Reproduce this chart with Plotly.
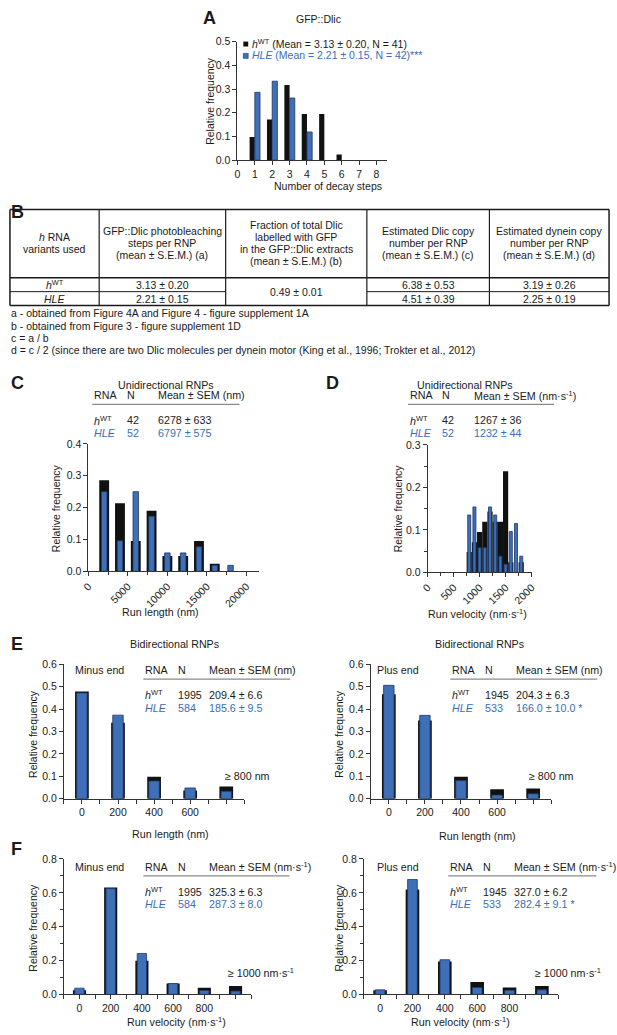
import plotly.graph_objects as go

FONT = 'Liberation Sans, Arial, sans-serif'
W, H = 617, 1035
BLUE = '#3e6fb7'
BLUE_EDGE = '#1e3a66'
BLUE_TXT = '#3a6db4'
INK = '#1a1a1a'
BLACK = '#111111'
FS = 10.5    # general text size
FS_ST = 10.7   # stats blocks

# ---- A: photobleaching steps ----
decay_steps = [1, 2, 3, 4, 5, 6]
decay_wt = [0.098, 0.171, 0.317, 0.195, 0.195, 0.024]
decay_steps_hle = [1, 2, 3, 4]
decay_hle = [0.286, 0.333, 0.262, 0.119]
legend_wt = '<i>h</i><sup>WT</sup> (Mean = 3.13 ± 0.20, N = 41)'
legend_hle = '<i>HLE</i> (Mean = 2.21 ± 0.15, N = 42)***'

# ---- B: table ----
table_head = [
    ['<i>h</i> RNA', 'variants used'],
    ['GFP::Dlic photobleaching', 'steps per RNP', '(mean ± S.E.M.) (a)'],
    ['Fraction of total Dlic', 'labelled with GFP', 'in the GFP::Dlic extracts', '(mean ± S.E.M.) (b)'],
    ['Estimated Dlic copy', 'number per RNP', '(mean ± S.E.M.) (c)'],
    ['Estimated dynein copy', 'number per RNP', '(mean ± S.E.M.) (d)'],
]
table_variants = ['<i>h</i><sup>WT</sup>', '<i>HLE</i>']
table_steps = ['3.13 ± 0.20', '2.21 ± 0.15']
table_fraction = '0.49 ± 0.01'
table_dlic = ['6.38 ± 0.53', '4.51 ± 0.39']
table_dynein = ['3.19 ± 0.26', '2.25 ± 0.19']
footnotes = [
    'a - obtained from Figure 4A and Figure 4 - figure supplement 1A',
    'b - obtained from Figure 3 - figure supplement 1D',
    'c = a / b',
    'd = c / 2 (since there are two Dlic molecules per dynein motor (King et al., 1996; Trokter et al., 2012)',
]

# ---- C: unidirectional run length ----
runlen_bins = [2000, 4000, 6000, 8000, 10000, 12000, 14000, 16000]
runlen_wt = [0.286, 0.214, 0.095, 0.190, 0.048, 0.048, 0.095, 0.024]
runlen_bins_hle = [2000, 4000, 6000, 8000, 10000, 12000, 14000, 16000, 18000]
runlen_hle = [0.250, 0.096, 0.250, 0.173, 0.058, 0.058, 0.077, 0.019, 0.019]
stats_runlen = [('<i>h</i><sup>WT</sup>', '42', '6278 ± 633'), ('<i>HLE</i>', '52', '6797 ± 575')]

# ---- D: unidirectional run velocity ----
vel_bins = [800, 900, 1000, 1100, 1200, 1300, 1400, 1500, 1600, 1700, 1800]
vel_wt = [0.048, 0.071, 0.095, 0.119, 0.143, 0.119, 0.119, 0.238, 0.024, 0.0, 0.024]
vel_hle = [0.135, 0.154, 0.058, 0.058, 0.154, 0.135, 0.038, 0.019, 0.096, 0.115, 0.038]
stats_vel = [('<i>h</i><sup>WT</sup>', '42', '1267 ± 36'), ('<i>HLE</i>', '52', '1232 ± 44')]

# ---- E: bidirectional run length ----
bi_len_labels = ['0', '200', '400', '600', ' ']
minus_len_wt = [0.478, 0.339, 0.098, 0.037, 0.054]
minus_len_hle = [0.472, 0.373, 0.079, 0.048, 0.033]
plus_len_wt = [0.466, 0.349, 0.098, 0.042, 0.045]
plus_len_hle = [0.506, 0.372, 0.081, 0.016, 0.022]
stats_minus_len = [('<i>h</i><sup>WT</sup>', '1995', '209.4 ± 6.6'), ('<i>HLE</i>', '584', '185.6 ± 9.5')]
stats_plus_len = [('<i>h</i><sup>WT</sup>', '1945', '204.3 ± 6.3'), ('<i>HLE</i>', '533', '166.0 ± 10.0 *')]

# ---- F: bidirectional run velocity ----
bi_vel_labels = ['0', '200', '400', '600', '800', ' ']
minus_vel_wt = [0.025, 0.632, 0.199, 0.064, 0.039, 0.049]
minus_vel_hle = [0.037, 0.625, 0.242, 0.064, 0.023, 0.020]
plus_vel_wt = [0.025, 0.620, 0.195, 0.074, 0.041, 0.049]
plus_vel_hle = [0.027, 0.679, 0.205, 0.041, 0.025, 0.027]
stats_minus_vel = [('<i>h</i><sup>WT</sup>', '1995', '325.3 ± 6.3'), ('<i>HLE</i>', '584', '287.3 ± 8.0')]
stats_plus_vel = [('<i>h</i><sup>WT</sup>', '1945', '327.0 ± 6.2'), ('<i>HLE</i>', '533', '282.4 ± 9.1 *')]

UNIT_V = 'nm·s<sup>-1</sup>'

fig = go.Figure()
ann = []
shp = []


def px(x):
    return x / W


def py(y):
    return 1 - y / H


def text(x, y, s, size=FS, color=INK, anchor='left', angle=0):
    ann.append(dict(x=px(x), y=py(y), xref='paper', yref='paper', text=s, showarrow=False,
                    xanchor=anchor, yanchor='middle', textangle=angle,
                    font=dict(size=size, color=color, family=FONT)))


def line(x0, y0, x1, y1, w=1, color=INK):
    shp.append(dict(type='line', xref='paper', yref='paper', x0=px(x0), y0=py(y0),
                    x1=px(x1), y1=py(y1), line=dict(color=color, width=w)))


def bars(x, y, n, width, color, edge=None, offset=None):
    fig.add_trace(go.Bar(x=x, y=y, xaxis='x%d' % n if n > 1 else 'x', yaxis='y%d' % n if n > 1 else 'y',
                         width=width, offset=offset, showlegend=False, hoverinfo='skip',
                         marker=dict(color=color, line=dict(color=edge or color, width=0.8 if edge else 0))))


def stats(x0, yline, xend, rows, unit):
    text(x0, yline - 9, 'RNA', FS_ST)
    text(x0 + 33, yline - 9, 'N', FS_ST)
    text(x0 + 65, yline - 9, 'Mean ± SEM (%s)' % unit, FS_ST)
    line(x0, yline, xend, yline, 1.3, '#8a8a8a')
    for (name, n, m), dy, c in zip(rows, [16, 29], [INK, BLUE_TXT]):
        text(x0, yline + dy, name, FS_ST, c)
        text(x0 + 33, yline + dy, n, FS_ST, c)
        text(x0 + 65, yline + dy, m, FS_ST, c)


base = dict(showline=True, linecolor='#333', linewidth=1, ticks='outside', ticklen=4, tickwidth=1,
            tickcolor='#333', showgrid=False, zeroline=False, fixedrange=True,
            tickfont=dict(size=FS, color=INK, family=FONT))

axes = {}


def set_axes(n, xd, yd, xa, ya):
    sx = '' if n == 1 else str(n)
    xa = dict(base, domain=[px(xd[0]), px(xd[1])], anchor='y' + sx, **xa)
    ya = dict(base, domain=[py(yd[1]), py(yd[0])], anchor='x' + sx, tickformat='.1f', **ya)
    axes['xaxis' + sx] = xa
    axes['yaxis' + sx] = ya


# A
bars(decay_steps, decay_wt, 1, 0.3, BLACK, offset=-0.3)
bars(decay_steps_hle, decay_hle, 1, 0.3, BLUE, BLUE_EDGE, offset=0)
set_axes(1, (235, 388), (36, 156),
         dict(range=[0, 8.63], tickvals=list(range(9))),
         dict(range=[0, 0.5], dtick=0.1))

# C
bars(runlen_bins, runlen_wt, 2, 1250, BLACK)
bars(runlen_bins_hle, runlen_hle, 2, 700, BLUE, BLUE_EDGE)
set_axes(2, (83, 257), (443, 572),
         dict(range=[0, 21600], tickvals=[0, 5000, 10000, 15000, 20000], tickformat='d', tickangle=-45,
              minor=dict(tick0=0, dtick=2500, ticks='outside', ticklen=3, tickcolor='#333')),
         dict(range=[0, 0.4], dtick=0.1))

# D
bars(vel_bins, vel_wt, 3, 100, BLACK)
bars(vel_bins, vel_hle, 3, 58, BLUE, BLUE_EDGE)
set_axes(3, (429, 535), (444, 573),
         dict(range=[0, 2000], tickvals=[0, 500, 1000, 1500, 2000], tickformat='d', tickangle=-45,
              minor=dict(tick0=0, dtick=250, ticks='outside', ticklen=3, tickcolor='#333')),
         dict(range=[0, 0.3], dtick=0.1,
              minor=dict(tick0=0, dtick=0.05, ticks='outside', ticklen=3, tickcolor='#333')))

# E
for n, xd, wt, hle in [(4, (58, 242), minus_len_wt, minus_len_hle), (5, (371, 555), plus_len_wt, plus_len_hle)]:
    idx = list(range(len(bi_len_labels)))
    bars(idx, wt, n, 0.38, BLACK)
    bars(idx, hle, n, 0.29, BLUE, BLUE_EDGE)
    set_axes(n, xd, (666, 802),
             dict(range=[-0.5, len(idx) - 0.5], tickvals=idx, ticktext=bi_len_labels,
                  minor=dict(tick0=0.5, dtick=1, ticks='outside', ticklen=4, tickcolor='#333')),
             dict(range=[0, 0.6], dtick=0.1))

# F
for n, xd, wt, hle in [(6, (58, 249), minus_vel_wt, minus_vel_hle), (7, (364, 562), plus_vel_wt, plus_vel_hle)]:
    idx = list(range(len(bi_vel_labels)))
    bars(idx, wt, n, 0.42, BLACK)
    bars(idx, hle, n, 0.3, BLUE, BLUE_EDGE)
    set_axes(n, xd, (863, 1000),
             dict(range=[-0.5, len(idx) - 0.5], tickvals=idx, ticktext=bi_vel_labels,
                  minor=dict(tick0=0.5, dtick=1, ticks='outside', ticklen=4, tickcolor='#333')),
             dict(range=[0, 0.8], dtick=0.2,
                  minor=dict(tick0=0, dtick=0.1, ticks='outside', ticklen=3, tickcolor='#333')))

# ---- panel texts ----
for lab, x, y in [('A', 198, 12), ('B', 2, 208), ('C', 2, 381), ('D', 323, 381), ('E', 2, 645), ('F', 2, 853)]:
    text(x, y, '<b>%s</b>' % lab, 18)

# A
text(318, 13, 'GFP::Dlic', FS, anchor='center')
shp.append(dict(type='rect', xref='paper', yref='paper', x0=px(241), x1=px(246), y0=py(41), y1=py(36),
                fillcolor=BLACK, line=dict(width=0)))
shp.append(dict(type='rect', xref='paper', yref='paper', x0=px(241), x1=px(246), y0=py(53), y1=py(48),
                fillcolor=BLUE, line=dict(color=BLUE_EDGE, width=0.6)))
text(248, 38, legend_wt, FS)
text(248, 50, legend_hle, FS, BLUE_TXT)
text(207, 96, 'Relative frequency', FS, anchor='center', angle=-90)
text(327, 182, 'Number of decay steps', FS, anchor='center')

# B table
col_x = [3, 94, 223, 367, 492, 614]
for xx in col_x:
    line(xx, 206, xx, 303, 1.5 if xx in (3, 614) else 1.2)
line(3, 206, 614, 206, 1.5)
line(3, 303, 614, 303, 1.5)
line(3, 275, 614, 275, 1.6)
line(3, 289, 223, 289, 1)
line(367, 289, 614, 289, 1)
for i, lines in enumerate(table_head):
    cx = (col_x[i] + col_x[i + 1]) / 2
    y0 = 240 - 6 * (len(lines) - 1)
    for j, s in enumerate(lines):
        text(cx, y0 + 12 * j, s, FS, anchor='center')
for r, y in enumerate([282, 296]):
    text((col_x[0] + col_x[1]) / 2, y, table_variants[r], FS, anchor='center')
    text((col_x[1] + col_x[2]) / 2, y, table_steps[r], FS, anchor='center')
    text((col_x[3] + col_x[4]) / 2, y, table_dlic[r], FS, anchor='center')
    text((col_x[4] + col_x[5]) / 2, y, table_dynein[r], FS, anchor='center')
text((col_x[2] + col_x[3]) / 2, 289, table_fraction, FS, anchor='center')
for j, s in enumerate(footnotes):
    text(2, 311 + 12.4 * j, s, FS)

# C / D
text(162, 383, 'Unidirectional RNPs', FS_ST, anchor='center')
stats(87, 403, 237, stats_runlen, 'nm')
text(50, 508, 'Relative frequency', FS, anchor='center', angle=-90)
text(157, 613, 'Run length (nm)', FS_ST, anchor='center')

text(467, 383, 'Unidirectional RNPs', FS_ST, anchor='center')
stats(409, 403, 558, stats_vel, UNIT_V)
text(399, 508, 'Relative frequency', FS, anchor='center', angle=-90)
text(480, 615, 'Run velocity (%s)' % UNIT_V, FS_ST, anchor='center')

# E
text(171, 645, 'Bidirectional RNPs', FS_ST, anchor='center')
text(67, 672, 'Minus end', FS_ST)
stats(139, 681, 289, stats_minus_len, 'nm')
text(220, 779, '≥ 800 nm', FS_ST)
text(27, 736, 'Relative frequency', FS, anchor='center', angle=-90)
text(167, 838, 'Run length (nm)', FS_ST, anchor='center')

text(482, 645, 'Bidirectional RNPs', FS_ST, anchor='center')
text(375, 672, 'Plus end', FS_ST)
stats(452, 681, 602, stats_plus_len, 'nm')
text(530, 779, '≥ 800 nm', FS_ST)
text(339, 736, 'Relative frequency', FS, anchor='center', angle=-90)
text(480, 840, 'Run length (nm)', FS_ST, anchor='center')

# F
text(67, 871, 'Minus end', FS_ST)
stats(139, 880, 288, stats_minus_vel, UNIT_V)
text(223, 978, '≥ 1000 %s' % UNIT_V, FS_ST)
text(27, 932, 'Relative frequency', FS, anchor='center', angle=-90)
text(173, 1027, 'Run velocity (%s)' % UNIT_V, FS_ST, anchor='center')

text(375, 871, 'Plus end', FS_ST)
stats(450, 880, 601, stats_plus_vel, UNIT_V)
text(536, 978, '≥ 1000 %s' % UNIT_V, FS_ST)
text(339, 932, 'Relative frequency', FS, anchor='center', angle=-90)
text(463, 1027, 'Run velocity (%s)' % UNIT_V, FS_ST, anchor='center')

fig.update_layout(width=W, height=H, margin=dict(l=0, r=0, t=0, b=0), paper_bgcolor='white',
                  plot_bgcolor='white', barmode='overlay', showlegend=False,
                  font=dict(family=FONT, size=FS, color=INK),
                  annotations=ann, shapes=shp, **axes)

# the page body has a default 8px margin; drop it so the figure sits at the window corner
fig.write_html('out.html', config={'displayModeBar': False},
               post_script="document.body.style.margin='0';")
